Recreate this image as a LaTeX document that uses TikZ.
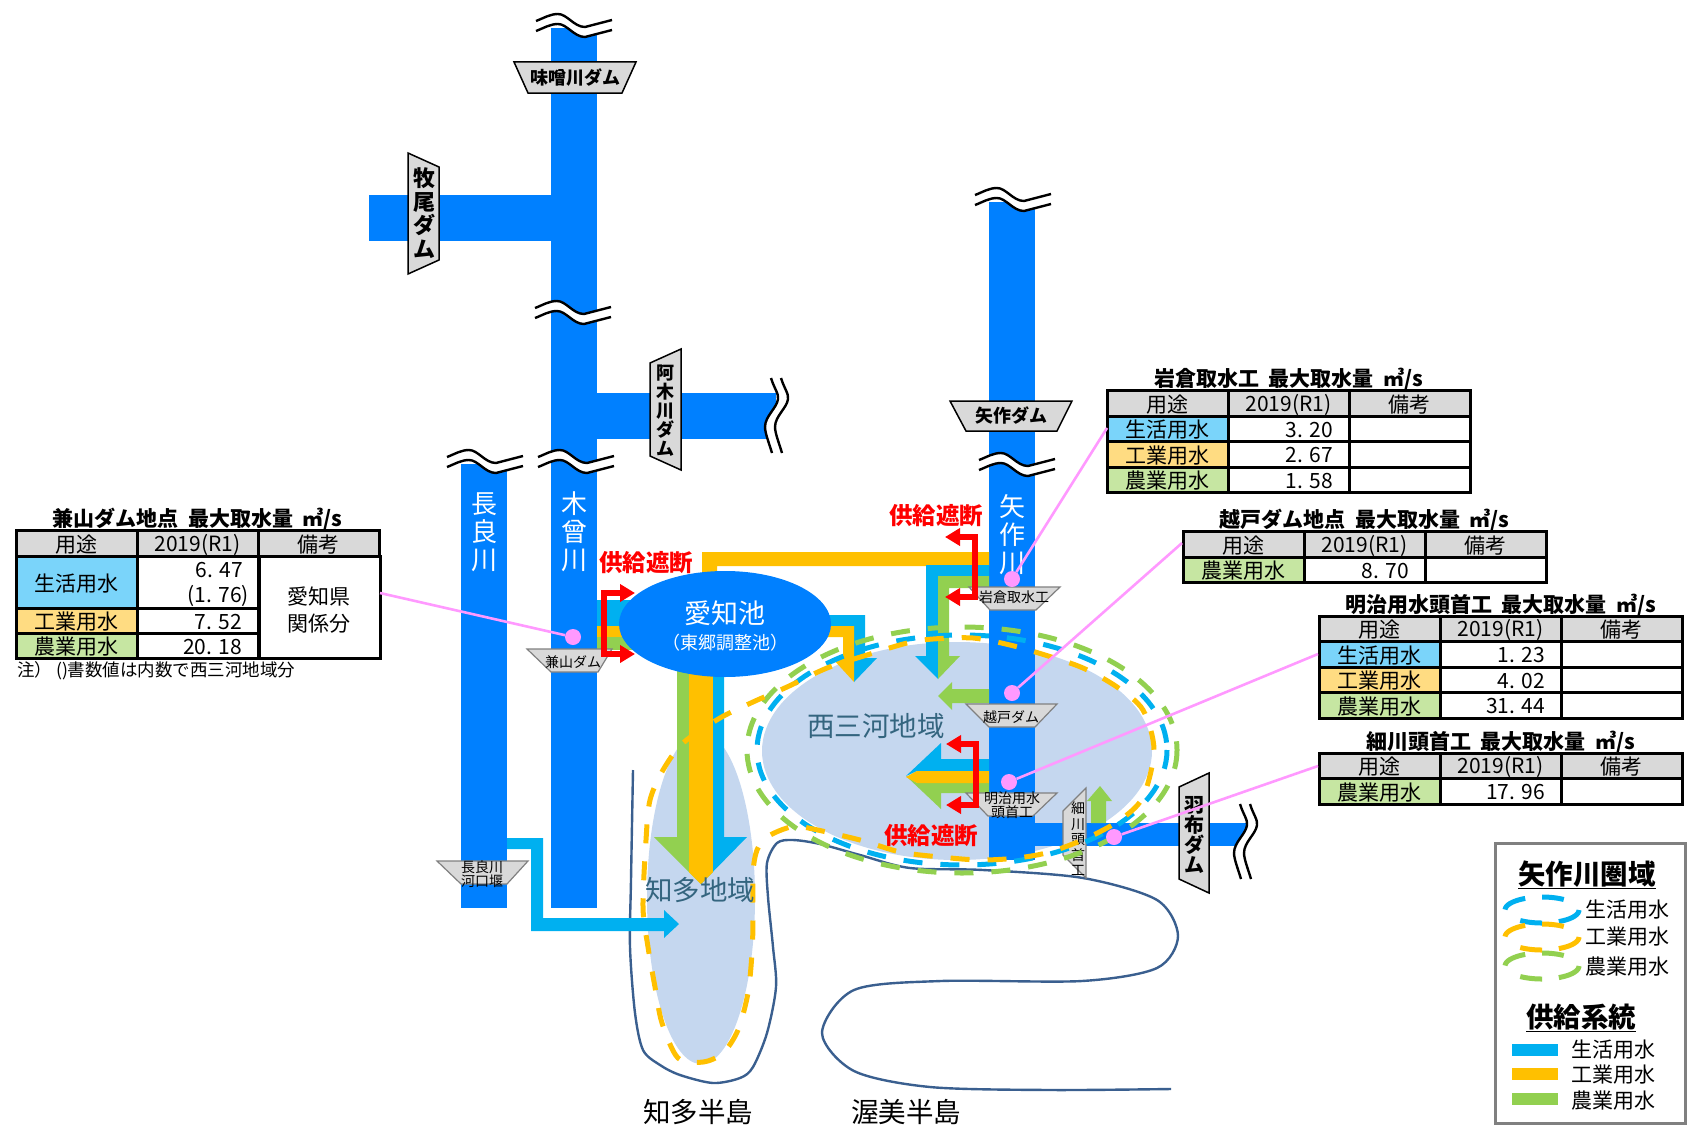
\documentclass[tikz,border=0pt]{standalone}
\usepackage{fontspec}
\setmainfont{Noto Sans CJK JP}
\usetikzlibrary{arrows.meta,shapes.geometric}
\definecolor{riverblue}{HTML}{0080FF}
\definecolor{supplyblue}{HTML}{00B0F0}
\definecolor{supplyorange}{HTML}{FFC000}
\definecolor{supplygreen}{HTML}{92D050}
\definecolor{areafill}{HTML}{C5D7EF}
\definecolor{coastline}{HTML}{3A5F8F}
\definecolor{areatext}{HTML}{34657F}
\definecolor{leaderpink}{HTML}{FF99FF}
\definecolor{cellblue}{HTML}{7AD4FA}
\definecolor{cellorange}{HTML}{FFDC82}
\definecolor{cellgreen}{HTML}{C6E6A2}
\definecolor{cellgray}{HTML}{D9D9D9}
\tikzset{
  damblack/.style={draw=black,fill=cellgray,line width=1.5pt},
  damgray/.style={draw=gray,fill=cellgray,line width=1.2pt},
  damsmall/.style={inner sep=0pt,align=center,font=\fontsize{14}{12.5}\selectfont},
  dambold/.style={inner sep=0pt,align=center,font=\bfseries\fontsize{18}{19}\selectfont},
  rivername/.style={text=white,inner sep=0pt,align=center,font=\fontsize{26}{28}\selectfont},
  areaname/.style={text=areatext,inner sep=0pt,font=\fontsize{27.5}{30}\selectfont},
  cutoff/.style={text=red,inner sep=0pt,font=\bfseries\fontsize{23.5}{25}\selectfont},
  redarrow/.style={draw=red,line width=5.5pt,{Triangle[length=15pt,width=17pt]}-{Triangle[length=15pt,width=17pt]}},
  pinkdot/.style={circle,fill=leaderpink,inner sep=0pt,minimum size=16pt},
  pinkline/.style={draw=leaderpink,line width=2.6pt},
  tblline/.style={draw=black,line width=3pt},
  tbltitle/.style={inner sep=0pt,font=\bfseries\fontsize{21}{23}\selectfont},
  tbltext/.style={inner sep=0pt,font=\fontsize{21}{22}\selectfont},
  legendtext/.style={inner sep=0pt,font=\fontsize{21}{23}\selectfont},
  legendtitle/.style={inner sep=0pt,font=\bfseries\fontsize{27.5}{30}\selectfont},
  areadash/.style={line width=5pt,dash pattern=on 19pt off 18pt},
  wave/.pic={
    \fill[white] (0,0) .. controls (8,-3) and (14,-7) .. (22,-7) .. controls (31,-7) and (38,6) .. (49,6) -- (76,-1)
      -- (76,9) -- (49,16) .. controls (38,16) and (31,3) .. (22,3) .. controls (14,3) and (8,7) .. (0,10) -- cycle;
    \draw[line width=2.4pt] (0,0) .. controls (8,-3) and (14,-7) .. (22,-7) .. controls (31,-7) and (38,6) .. (49,6) -- (76,-1);
    \draw[line width=2.4pt] (0,10) .. controls (8,7) and (14,3) .. (22,3) .. controls (31,3) and (38,16) .. (49,16) -- (76,9);
  },
  wavev/.pic={
    \fill[white] (0,0) .. controls (3,10) and (8,16) .. (7,21) .. controls (6,30) and (-6,38) .. (-6,49) .. controls (-6,55) and (-2,65) .. (1,75)
      -- (11,75) .. controls (8,65) and (4,55) .. (4,49) .. controls (4,38) and (16,30) .. (17,21) .. controls (18,16) and (13,10) .. (10,0) -- cycle;
    \draw[line width=2.4pt] (0,0) .. controls (3,10) and (8,16) .. (7,21) .. controls (6,30) and (-6,38) .. (-6,49) .. controls (-6,55) and (-2,65) .. (1,75);
    \draw[line width=2.4pt] (10,0) .. controls (13,10) and (18,16) .. (17,21) .. controls (16,30) and (4,38) .. (4,49) .. controls (4,55) and (8,65) .. (11,75);
  }
}
% one table row: name, left, top, bottom, colour, use, value
\newcommand{\waterrow}[7]{%
  \draw[tblline,fill=#5] (#2,#3) rectangle (#2+121,#4);
  \draw[tblline,fill=white] (#2+121,#3) rectangle (#2+242,#4);
  \draw[tblline,fill=white] (#2+242,#3) rectangle (#2+363,#4);
  \node[tbltext] (#1-use) at (#2+60.5,{(#3+#4)/2+1.5}) {#6};
  \node[tbltext,anchor=east] (#1-val) at (#2+226,{(#3+#4)/2+1.5}) {#7};
}
% table heading: name, left, top, bottom, title
\newcommand{\headrow}[5]{%
  \draw[tblline,fill=cellgray] (#2,#3) rectangle (#2+121,#4);
  \draw[tblline,fill=cellgray] (#2+121,#3) rectangle (#2+242,#4);
  \draw[tblline,fill=cellgray] (#2+242,#3) rectangle (#2+363,#4);
  \node[tbltext] (#1-use) at (#2+60.5,{(#3+#4)/2+1.5}) {用途};
  \node[tbltext] (#1-year) at (#2+181.5,{(#3+#4)/2+1.5}) {2019(R1)};
  \node[tbltext] (#1-note) at (#2+302.5,{(#3+#4)/2+1.5}) {備考};
  \node[tbltitle] (#1-title) at (#2+181.5,#3-11) {#5\ \ 最大取水量\ \ ㎥/s};
}
\begin{document}
\begin{tikzpicture}[x=1pt,y=-1pt]
  \useasboundingbox (0,0) rectangle (1696,1132);
  % Areas and coast
  \fill[areafill] (957,751) ellipse [x radius=195,y radius=109];
  \fill[areafill] (701,898) ellipse [x radius=54,y radius=166];
  \draw[coastline,line width=2.4pt] plot[smooth,tension=0.5] coordinates {(633,770) (631,880) (630,947) (635,1013) (643,1050)
    (660,1065) (680,1075) (713,1083) (740,1078) (753,1067) (767,1033) (776,987) (773,947) (768,897) (767,863) (777,843) (793,840)
    (820,844) (860,855) (910,868) (983,870) (1083,878) (1157,900) (1178,936) (1157,968) (1082,981) (941,981) (854,990) (822,1033)
    (854,1071) (930,1087) (1050,1090) (1171,1089)};
  % Rivers
  \fill[riverblue] (551,28) rectangle (597,908);
  \fill[riverblue] (369,195) rectangle (551,241);
  \fill[riverblue] (597,393) rectangle (776,439);
  \fill[riverblue] (461,464) rectangle (507,908);
  \fill[riverblue] (989,202) rectangle (1035,860);
  \fill[riverblue] (1035,823) rectangle (1246,846);
  \pic at (536,21) {wave};
  \pic at (535,308) {wave};
  \pic at (538,457) {wave};
  \pic at (447,457) {wave};
  \pic at (975,195) {wave};
  \pic at (979,460) {wave};
  \pic at (771,378) {wavev};
  \pic at (1240,804) {wavev};
  % River names
  \node[rivername] (nagara) at (484,532) {長\\良\\川};
  \node[rivername] (kiso) at (574,532) {木\\曾\\川};
  \node[rivername] (yahagi) at (1012,535) {矢\\作\\川};
  % Supply from Kiso to the pond
  \fill[supplyblue] (597,600) rectangle (650,626);
  \fill[supplyorange] (597,626) rectangle (650,637);
  \fill[supplygreen] (597,637) rectangle (650,650);
  % Supply from the pond to Chita
  \fill[supplyblue] (713,660) -- (724,660) -- (724,837) -- (747,837) -- (701,884) -- cycle;
  \fill[supplygreen] (689,660) -- (677,660) -- (677,837) -- (654,837) -- (701,884) -- cycle;
  \fill[supplyorange] (689,660) rectangle (713,872);
  \fill[supplyorange] (689,872) -- (713,872) -- (701,884) -- cycle;
  % Supply from the pond to Nishi-Mikawa
  \fill[supplyblue] (800,615) -- (865,615) -- (865,658) -- (877,658) -- (854,682) -- (854,626) -- (800,626) -- cycle;
  \fill[supplyorange] (800,626) -- (854,626) -- (854,682) -- (832,658) -- (843,658) -- (843,637) -- (800,637) -- cycle;
  % Supply from Iwakura
  \fill[supplyorange] (702,552) -- (989,552) -- (989,566) -- (717,566) -- (717,580) -- (702,580) -- cycle;
  \fill[supplyblue] (989,565) -- (926,565) -- (926,656) -- (915,656) -- (938,679) -- (938,576) -- (989,576) -- cycle;
  \fill[supplygreen] (989,576) -- (938,576) -- (938,679) -- (960,656) -- (949,656) -- (949,588) -- (989,588) -- cycle;
  % Supply from Koshido
  \fill[supplygreen] (989,689) -- (952,689) -- (952,682) -- (938,696) -- (952,710) -- (952,703) -- (989,703) -- cycle;
  % Supply from Meiji
  \fill[supplyblue] (989,759) -- (941,759) -- (941,743) -- (906,776) -- (917,771) -- (989,771) -- cycle;
  \fill[supplygreen] (989,793) -- (941,793) -- (941,809) -- (906,776) -- (917,783) -- (989,783) -- cycle;
  \fill[supplyorange] (989,771) -- (917,771) -- (906,777) -- (917,783) -- (989,783) -- cycle;
  % Supply from Hosokawa
  \fill[supplygreen] (1091,823) -- (1091,801) -- (1087,801) -- (1100,786) -- (1112,801) -- (1106,801) -- (1106,823) -- cycle;
  % Supply from Nagara
  \fill[supplyblue] (507,838) -- (543,838) -- (543,918) -- (664,918) -- (664,910) -- (679,924) -- (664,938) -- (664,931) -- (531,931) -- (531,849) -- (507,849) -- cycle;
  % Aichi pond
  \node[ellipse,fill=riverblue,inner sep=0pt,minimum width=212pt,minimum height=106pt] (pond) at (725,624) {};
  \node[text=white,inner sep=0pt,font=\fontsize{27}{30}\selectfont] (pond-name) at (725,613) {愛知池};
  \node[text=white,inner sep=0pt,font=\fontsize{18}{20}\selectfont] (pond-sub) at (725,643) {（東郷調整池）};
  % Dams
  \draw[damblack] (514,62) -- (636,62) -- (622,93) -- (528,93) -- cycle;
  \node[dambold] (misogawa) at (575,78) {味噌川ダム};
  \draw[damblack] (408,153) -- (439,167) -- (439,260) -- (408,274) -- cycle;
  \node[dambold,font=\bfseries\fontsize{22}{23.5}\selectfont] (makio) at (424,213) {牧\\尾\\ダ\\ム};
  \draw[damblack] (650,363) -- (681,349) -- (681,470) -- (650,456) -- cycle;
  \node[dambold] (agigawa) at (665,411) {阿\\木\\川\\ダ\\ム};
  \draw[damblack] (950,401) -- (1072,401) -- (1057,431) -- (966,431) -- cycle;
  \node[dambold] (yahagidam) at (1011,416) {矢作ダム};
  \draw[damblack] (1179,787) -- (1209,773) -- (1209,893) -- (1179,879) -- cycle;
  \node[dambold,font=\bfseries\fontsize{20}{20}\selectfont] (hafu) at (1194,835) {羽\\布\\ダ\\ム};
  \draw[damgray] (527,649) -- (612,649) -- (598,672) -- (551,672) -- cycle;
  \node[damsmall] (kaneyama) at (573,662) {兼山ダム};
  \draw[damgray] (969,587) -- (1060,587) -- (1036,610) -- (990,610) -- cycle;
  \node[damsmall] (iwakura) at (1014,597) {岩倉取水工};
  \draw[damgray] (966,704) -- (1057,704) -- (1035,727) -- (989,727) -- cycle;
  \node[damsmall] (koshido) at (1011,717) {越戸ダム};
  \draw[damgray] (966,793) -- (1057,793) -- (1033,816) -- (988,816) -- cycle;
  \node[damsmall] (meiji) at (1012,805) {明治用水\\頭首工};
  \draw[damgray] (1063,811) -- (1086,788) -- (1086,878) -- (1063,855) -- cycle;
  \node[damsmall,font=\fontsize{14}{15.5}\selectfont] (hosokawa) at (1078,839) {細\\川\\頭\\首\\工};
  \draw[damgray] (437,861) -- (528,861) -- (507,884) -- (461,884) -- cycle;
  \node[damsmall] (kakou) at (482,874) {長良川\\河口堰};
  % Cut-off arrows
  \draw[redarrow] (635,593) -- (604,593) -- (604,654) -- (635,654);
  \draw[redarrow] (945,537) -- (975,537) -- (975,597) -- (945,597);
  \draw[redarrow] (946,744) -- (976,744) -- (976,805) -- (946,805);
  \node[cutoff] (cutoff-a) at (646,563) {供給遮断};
  \node[cutoff] (cutoff-b) at (936,516) {供給遮断};
  \node[cutoff] (cutoff-c) at (931,836) {供給遮断};
  % Supply area outlines
  \draw[supplygreen,areadash] (962,750) ellipse [x radius=215,y radius=123];
  \draw[supplyblue,areadash] (962,750) ellipse [x radius=205,y radius=115];
  \draw[supplyorange,areadash] plot[smooth cycle,tension=0.5] coordinates {(907,643) (867,655) (827,668) (787,687) (753,702) (720,718)
    (683,743) (663,770) (650,800) (646,840) (643,907) (648,947) (655,987) (662,1023) (678,1058) (703,1062) (723,1053) (738,1030)
    (748,993) (752,953) (753,920) (753,873) (757,850) (767,837) (787,828) (803,827) (860,840) (900,852) (940,857) (980,860) (1017,858)
    (1050,852) (1087,838) (1120,820) (1143,797) (1154,750) (1143,710) (1117,687) (1083,668) (1045,655) (1010,645) (973,638) (933,639)};
  % Area and peninsula names
  \node[areaname] (mikawa) at (876,726) {西三河地域};
  \node[areaname] (chita) at (700,890) {知多地域};
  \node[inner sep=0pt,font=\fontsize{27.5}{30}\selectfont] (chita-pen) at (698,1112) {知多半島};
  \node[inner sep=0pt,font=\fontsize{27.5}{30}\selectfont] (atsumi-pen) at (906,1112) {渥美半島};
  % Kaneyama table
  \headrow{t-kane}{16}{530}{556}{兼山ダム地点}
  \waterrow{t-kane-a}{16}{556}{608}{cellblue}{生活用水}{}
  \waterrow{t-kane-b}{16}{608}{633}{cellorange}{工業用水}{7. 52}
  \waterrow{t-kane-c}{16}{633}{658}{cellgreen}{農業用水}{20. 18}
  \draw[tblline,fill=white] (259,556) rectangle (380,658);
  \node[tbltext,anchor=east] (t-kane-val) at (243,570) {6. 47};
  \node[tbltext,anchor=east] (t-kane-sub) at (249,596) {(1. 76)};
  \node[tbltext,align=center,font=\fontsize{21}{27}\selectfont] (t-kane-rem) at (319,610) {愛知県\\関係分};
  \node[inner sep=0pt,anchor=west,font=\fontsize{17.5}{19}\selectfont] (t-kane-foot) at (17,671) {注） ()書数値は内数で西三河地域分};
  % Iwakura table
  \headrow{t-iwa}{1107}{390}{416}{岩倉取水工}
  \waterrow{t-iwa-a}{1107}{416}{441}{cellblue}{生活用水}{3. 20}
  \waterrow{t-iwa-b}{1107}{441}{467}{cellorange}{工業用水}{2. 67}
  \waterrow{t-iwa-c}{1107}{467}{492}{cellgreen}{農業用水}{1. 58}
  % Koshido table
  \headrow{t-kos}{1183}{531}{557}{越戸ダム地点}
  \waterrow{t-kos-a}{1183}{557}{582}{cellgreen}{農業用水}{8. 70}
  % Meiji table
  \headrow{t-mei}{1319}{616}{641}{明治用水頭首工}
  \waterrow{t-mei-a}{1319}{641}{667}{cellblue}{生活用水}{1. 23}
  \waterrow{t-mei-b}{1319}{667}{692}{cellorange}{工業用水}{4. 02}
  \waterrow{t-mei-c}{1319}{692}{718}{cellgreen}{農業用水}{31. 44}
  % Hosokawa table
  \headrow{t-hos}{1319}{753}{778}{細川頭首工}
  \waterrow{t-hos-a}{1319}{778}{804}{cellgreen}{農業用水}{17. 96}
  % Leaders
  \node[pinkdot] (dot-kane) at (573,637) {};
  \node[pinkdot] (dot-iwa) at (1012,579) {};
  \node[pinkdot] (dot-kos) at (1012,693) {};
  \node[pinkdot] (dot-mei) at (1009,782) {};
  \node[pinkdot] (dot-hos) at (1114,837) {};
  \coordinate (end-kane) at (380,593);
  \coordinate (end-iwa) at (1107,428);
  \coordinate (end-kos) at (1182,543);
  \coordinate (end-mei) at (1318,654);
  \coordinate (end-hos) at (1318,766);
  \foreach \s in {kane,iwa,kos,mei,hos} {
    \draw[pinkline] (dot-\s) -- (end-\s);
  }
  % Legend
  \draw[draw=gray,line width=3pt,fill=white] (1495,843) rectangle (1685,1123);
  \node[legendtitle] (leg-area) at (1587,875) {\underline{矢作川圏域}};
  \foreach \c/\y in {supplyblue/910,supplyorange/937,supplygreen/966} {
    \foreach \a/\b in {178/117,90/54,0/-63,-90/-126} {
      \draw[\c,line width=5pt,domain=\a:\b,samples=10,smooth,variable=\t] plot ({1542+37*cos(\t)},{\y-13*sin(\t)});
    }
  }
  \node[legendtext] (leg-a1) at (1627,910) {生活用水};
  \node[legendtext] (leg-a2) at (1627,937) {工業用水};
  \node[legendtext] (leg-a3) at (1627,967) {農業用水};
  \node[legendtitle] (leg-sys) at (1581,1018) {\underline{供給系統}};
  \fill[supplyblue] (1512,1044) rectangle (1558,1056);
  \fill[supplyorange] (1512,1068) rectangle (1558,1080);
  \fill[supplygreen] (1512,1093) rectangle (1558,1105);
  \node[legendtext] (leg-s1) at (1613,1050) {生活用水};
  \node[legendtext] (leg-s2) at (1613,1075) {工業用水};
  \node[legendtext] (leg-s3) at (1613,1101) {農業用水};
\end{tikzpicture}
\end{document}
